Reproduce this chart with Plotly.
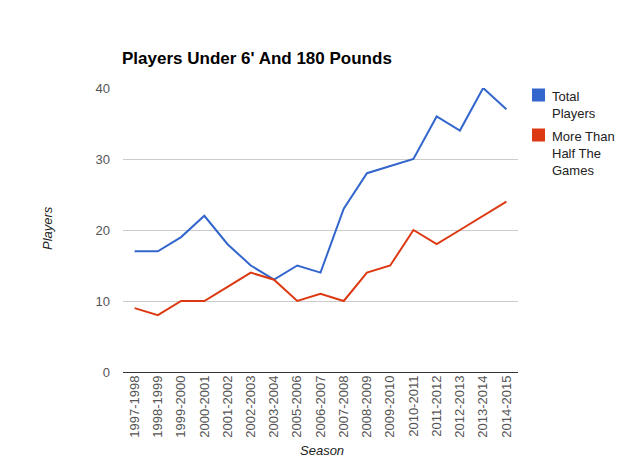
import plotly.graph_objects as go

seasons = ["1997-1998", "1998-1999", "1999-2000", "2000-2001", "2001-2002",
           "2002-2003", "2003-2004", "2005-2006", "2006-2007", "2007-2008",
           "2008-2009", "2009-2010", "2010-2011", "2011-2012", "2012-2013",
           "2013-2014", "2014-2015"]
total_players = [17, 17, 19, 22, 18, 15, 13, 15, 14, 23, 28, 29, 30, 36, 34, 40, 37]
more_than_half = [9, 8, 10, 10, 12, 14, 13, 10, 11, 10, 14, 15, 20, 18, 20, 22, 24]
y_ticks = [0, 10, 20, 30, 40]

series_names = ["Total<br>Players", "More Than<br>Half The<br>Games"]
colors = ["#3366cc", "#dc3912"]

OFF = 8  # page body margin
W, H = 640 - OFF, 460 - OFF
# plot area in page pixels: x 123..518, y 88..372
L, R = 123 - OFF, W - (518 - OFF)
T, B = 88 - OFF, H - (372 - OFF)
PW = W - L - R
PH = H - T - B

def px_x(p):
    return (p - OFF - L) / PW

def px_y(p):
    return (H - B - (p - OFF)) / PH

FONT = "Liberation Sans, Arial, sans-serif"

fig = go.Figure()
for vals, c in zip([total_players, more_than_half], colors):
    fig.add_trace(go.Scatter(x=seasons, y=vals, mode="lines",
                             line=dict(color=c, width=2), showlegend=False,
                             hoverinfo="x+y"))

fig.update_layout(
    width=W, height=H,
    margin=dict(l=L, r=R, t=T, b=B),
    paper_bgcolor="white", plot_bgcolor="white",
    font=dict(family=FONT, size=13, color="#444"),
    title=dict(text="<b>Players Under 6' And 180 Pounds</b>",
               font=dict(family=FONT, size=17, color="#000"),
               x=(122 - OFF) / W, xanchor="left", xref="container",
               y=1 - (58 - OFF) / H, yanchor="middle", yref="container"),
    showlegend=False,
)

fig.update_xaxes(type="category", tickangle=-90, showgrid=False, showline=False,
                 ticks="", tickfont=dict(size=13, color="#555"),
                 range=[-0.5, len(seasons) - 0.5], fixedrange=True)
fig.update_yaxes(range=[0, 40], tickvals=y_ticks, showgrid=True, gridcolor="#cccccc",
                 gridwidth=1, zeroline=True, zerolinecolor="#333333", zerolinewidth=1,
                 showline=False, ticks="", ticklabelstandoff=12,
                 tickfont=dict(size=13, color="#555"), fixedrange=True)

# axis titles
fig.add_annotation(text="<i>Players</i>", xref="paper", yref="paper",
                   x=px_x(47), y=px_y(228), xanchor="center", yanchor="middle",
                   textangle=-90, showarrow=False,
                   font=dict(family=FONT, size=13, color="#222"))
fig.add_annotation(text="<i>Season</i>", xref="paper", yref="paper",
                   x=px_x(322), y=px_y(450), xanchor="center", yanchor="middle",
                   showarrow=False,
                   font=dict(family=FONT, size=13, color="#222"))

# legend
leg_y = [95, 135]
for name, c, ly in zip(series_names, colors, leg_y):
    fig.add_shape(type="rect", xref="paper", yref="paper",
                  x0=px_x(532), x1=px_x(545), y0=px_y(ly - 6.5), y1=px_y(ly + 6.5),
                  fillcolor=c, line=dict(width=0))
    fig.add_annotation(text=name, xref="paper", yref="paper",
                       x=px_x(550), y=px_y(ly - 8), xanchor="left", yanchor="top",
                       align="left", showarrow=False,
                       font=dict(family=FONT, size=13, color="#222"))

fig.write_html("out.html")
